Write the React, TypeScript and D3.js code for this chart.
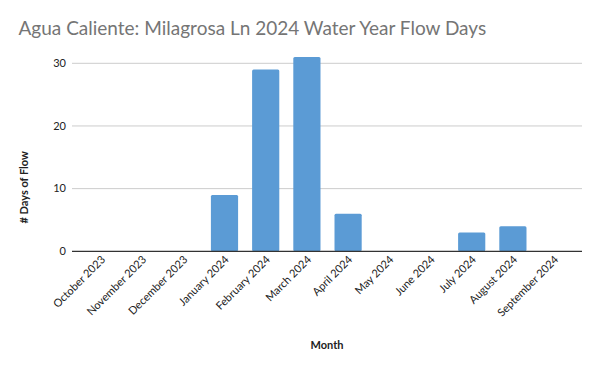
import * as d3 from "d3";

const months = [
  "October 2023",
  "November 2023",
  "December 2023",
  "January 2024",
  "February 2024",
  "March 2024",
  "April 2024",
  "May 2024",
  "June 2024",
  "July 2024",
  "August 2024",
  "September 2024",
];
const flowDays = [0, 0, 0, 9, 29, 31, 6, 0, 0, 3, 4, 0];
const yTicks = [0, 10, 20, 30];

const title = "Agua Caliente: Milagrosa Ln 2024 Water Year Flow Days";
const font = "Lato, 'Open Sans', sans-serif";

export default function App() {
  const width = 600;
  const height = 371;
  const plot = { left: 72, right: 582, top: 63.3, bottom: 251.3 };

  const y = d3.scaleLinear().domain([0, 30]).range([plot.bottom, plot.top]);
  const x = d3
    .scaleBand<string>()
    .domain(months)
    .range([80.3, 574.7])
    .paddingInner(0.34)
    .paddingOuter(0.17);

  return (
    <svg
      width={width}
      height={height}
      style={{ position: "absolute", left: 0, top: 0, background: "#fff" }}
      fontFamily={font}
    >
      <text x={18.5} y={35} fontSize={19} fill="#757575">
        {title}
      </text>

      {/* gridlines */}
      {yTicks.map((t) => (
        <g key={t}>
          {t !== 0 && (
            <line
              x1={plot.left}
              x2={plot.right}
              y1={y(t)}
              y2={y(t)}
              stroke="#cccccc"
              strokeWidth={1}
            />
          )}
          <text
            x={66}
            y={y(t)}
            dy="0.35em"
            textAnchor="end"
            fontSize={11}
            fill="#222"
          >
            {t}
          </text>
        </g>
      ))}

      {/* bars */}
      {months.map((m, i) =>
        flowDays[i] > 0 ? (
          <rect
            key={m}
            x={x(m)}
            y={y(flowDays[i])}
            width={x.bandwidth()}
            height={y(0) - y(flowDays[i])}
            rx={1.5}
            fill="#5b9bd5"
          />
        ) : null
      )}

      <line
        x1={plot.left}
        x2={plot.right}
        y1={y(0)}
        y2={y(0)}
        stroke="#333"
        strokeWidth={1.2}
      />

      {/* x tick labels */}
      {months.map((m) => {
        const cx = (x(m) ?? 0) + x.bandwidth() / 2 + 5;
        const cy = y(0) + 9;
        return (
          <text
            key={m}
            transform={`translate(${cx},${cy}) rotate(-45)`}
            textAnchor="end"
            fontSize={11}
            fill="#222"
          >
            {m}
          </text>
        );
      })}

      <text
        transform={`translate(28,${(plot.top + plot.bottom) / 2 + 30}) rotate(-90)`}
        textAnchor="middle"
        fontSize={11}
        fontWeight="bold"
        fill="#222"
      >
        # Days of Flow
      </text>
      <text
        x={327}
        y={349}
        textAnchor="middle"
        fontSize={11}
        fontWeight="bold"
        fill="#222"
      >
        Month
      </text>
    </svg>
  );
}
